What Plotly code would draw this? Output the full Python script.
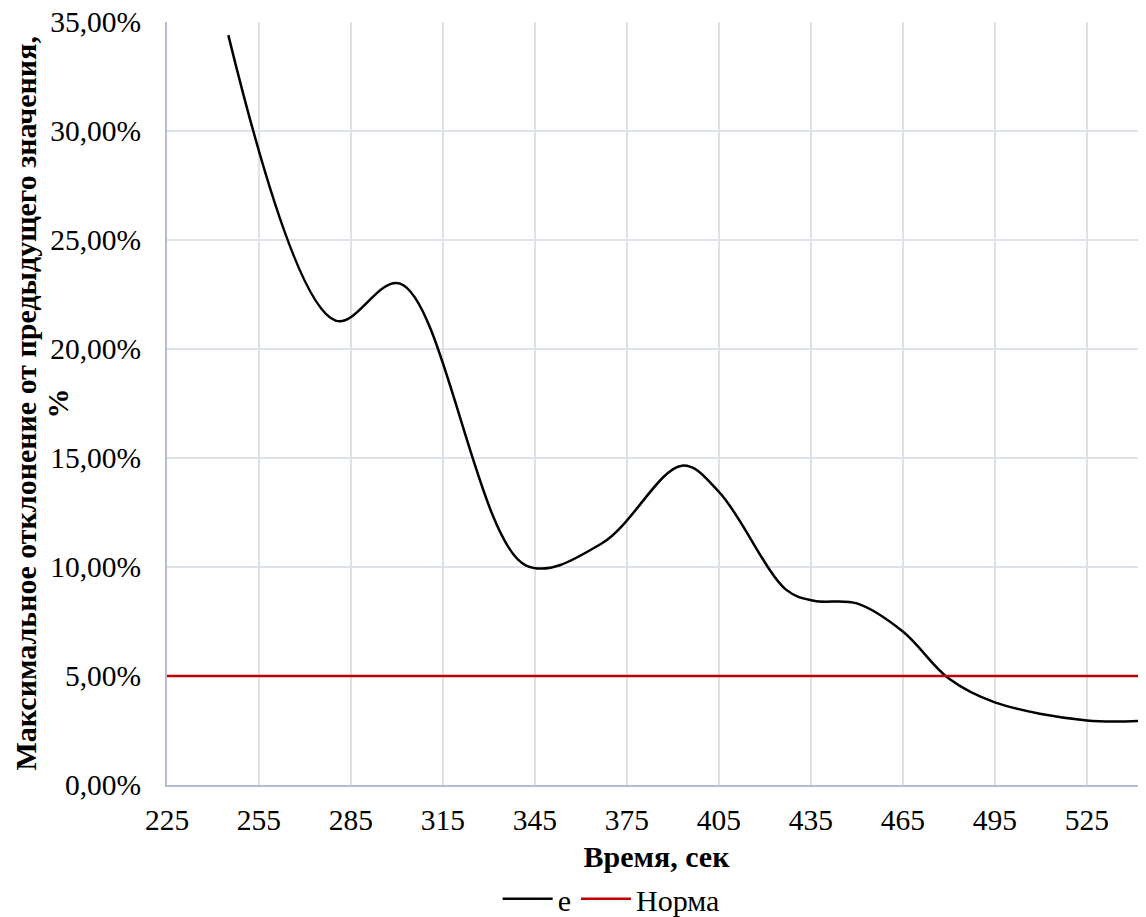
import plotly.graph_objects as go

# Data
time_s = [245, 280, 301, 342, 367, 393, 405, 427, 436, 450, 465, 480, 495, 525, 545]
deviation = [0.344, 0.213, 0.230, 0.1008, 0.111, 0.1465, 0.1345, 0.0895, 0.0845, 0.0833,
             0.0704, 0.0488, 0.0379, 0.0296, 0.0296]
norm_x = [225, 545]
norm_y = [0.05, 0.05]

x_ticks = [225, 255, 285, 315, 345, 375, 405, 435, 465, 495, 525]
y_ticks = [0, 0.05, 0.10, 0.15, 0.20, 0.25, 0.30, 0.35]
y_tick_text = ["0,00%", "5,00%", "10,00%", "15,00%", "20,00%", "25,00%", "30,00%", "35,00%"]
y_title_line1 = "Максимальное отклонение от предыдущего значения,"
y_title_line2 = "%"
x_title = "Время, сек"

FONT = "Liberation Serif, Times New Roman, serif"
GRID = "#dde1ea"
AXIS = "#b3bdd1"

fig = go.Figure()
fig.add_trace(go.Scatter(
    x=time_s, y=deviation, name="e", mode="lines",
    line=dict(color="#000000", width=2.5, shape="spline", smoothing=1.0),
))
fig.add_trace(go.Scatter(
    x=norm_x, y=norm_y, name="Норма", mode="lines",
    line=dict(color="#c00000", width=2.5),
))

title_font = dict(family=FONT, size=30, color="#000000")

# page body has an 8px margin, so the figure is sized/offset to compensate
fig.update_layout(
    width=1138, height=909,
    margin=dict(l=159, r=0, t=14, b=132),
    paper_bgcolor="white", plot_bgcolor="white",
    font=dict(family=FONT, size=29.5, color="#000000"),
    showlegend=True,
    legend=dict(
        orientation="h", xref="container", yref="container",
        x=0.53, xanchor="center", y=0.02, yanchor="middle",
        font=dict(family=FONT, size=30), itemwidth=50,
        bgcolor="rgba(0,0,0,0)",
    ),
    annotations=[
        dict(text="<b>" + y_title_line1 + "</b>", textangle=-90,
             xref="paper", yref="paper", x=0, y=0.5,
             xanchor="center", yanchor="middle", xshift=-142,
             showarrow=False, font=title_font),
        dict(text="<b>" + y_title_line2 + "</b>", textangle=-90,
             xref="paper", yref="paper", x=0, y=0.5,
             xanchor="center", yanchor="middle", xshift=-110,
             showarrow=False, font=title_font),
    ],
)
fig.update_xaxes(
    range=[225, 544.3], tickvals=x_ticks, ticktext=[str(v) for v in x_ticks],
    showgrid=True, gridcolor=GRID, gridwidth=2,
    showline=True, linecolor=AXIS, linewidth=2,
    zeroline=False, ticks="", ticklabelstandoff=8,
    tickfont=dict(family=FONT, size=29.5),
    title=dict(text="<b>" + x_title + "</b>", font=title_font, standoff=17),
    automargin=False, ticklabeloverflow="allow",
)
fig.update_yaxes(
    range=[0, 0.35], tickvals=y_ticks, ticktext=y_tick_text,
    showgrid=True, gridcolor=GRID, gridwidth=2,
    showline=True, linecolor=AXIS, linewidth=2,
    zeroline=False, ticks="", ticklabelstandoff=18,
    tickfont=dict(family=FONT, size=29.5),
    automargin=False, ticklabeloverflow="allow",
)

fig.write_html("out.html")
